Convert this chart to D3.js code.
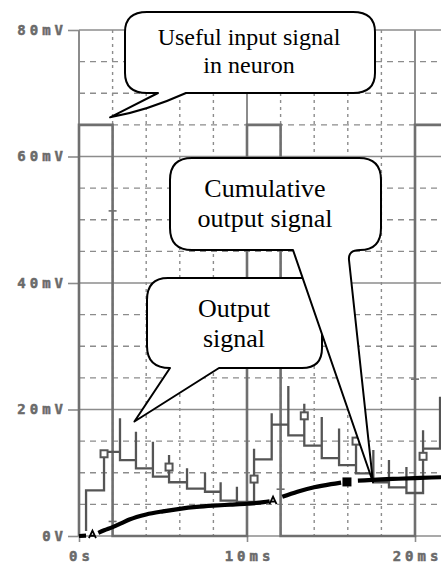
<!DOCTYPE html>
<html><head><meta charset="utf-8">
<script src="https://cdn.jsdelivr.net/npm/d3@7"></script>
<style>html,body{margin:0;padding:0;background:#fff}svg{display:block}</style>
</head><body><svg id="c" width="441" height="563"></svg>
<script>
// ---------------- data ----------------
// input signal (gray pulses), time in ms, value in mV
const inputT = [0, 0, 2, 2, 10, 10, 12, 12, 20, 20, 23];
const inputV = [0, 65, 65, 0, 0, 65, 65, 0, 0, 65, 65];
const inputTickT = [2, 2, 12, 20];
const inputTickV = [51.4, 2.3, 7.4, 24.8];

// output signal (step trace): at each time, spike to peak then settle at level
const outStart = 0.8;
const outT     = [0.42, 1.49, 2.44, 3.39, 4.40, 5.36, 6.43, 7.50, 8.43, 9.40, 10.42, 11.47, 12.46, 13.41, 14.45, 15.48, 16.49, 17.52, 18.45, 19.49, 20.48, 21.49];
const outPeak  = [7.2, 13.3, 18.6, 16.5, 14.9, 12.8, 10.7, 10.0, 8.5, 7.8, 13.8, 19.4, 23.7, 20.9, 18.8, 17.0, 15.7, 13.6, 12.0, 10.9, 16.7, 22.0];
const outLevel = [7.2, 13.3, 12.0, 10.7, 9.4, 8.5, 7.5, 7.0, 5.6, 5.4, 12.1, 17.6, 15.9, 14.3, 12.3, 11.2, 9.9, 8.5, 7.7, 6.8, 13.8, 17.0];
const outMarkT = [1.49, 5.36, 10.42, 13.41, 16.49, 20.48];
const outMarkV = [13.0, 10.9, 9.0, 19.0, 15.0, 12.6];

// cumulative output signal (black), null = gap around a marker
const cumT = [0, 0.42, 0.8, 1.15, 1.5, 2, 2.5, 3, 4, 5, 6, 7, 8, 9, 10, 11, 11.35, 11.6, 12.1, 13, 14, 15, 15.6, 16.0, 16.6, 17, 18, 19, 20, 21, 23];
const cumV = [0, 0.05, null, 0.5, 0.9, 1.4, 2.0, 2.6, 3.4, 3.9, 4.3, 4.6, 4.8, 4.95, 5.1, 5.35, 5.5, null, 6.2, 7.0, 7.7, 8.2, 8.45, null, 8.75, 8.8, 8.95, 9.05, 9.15, 9.25, 9.4];
const cumTriT = [0.8, 11.55];
const cumTriV = [0.2, 5.6];
const cumSqT = [15.95];
const cumSqV = [8.55];

// axes
const yTicks = [0, 20, 40, 60, 80];
const yTickLabels = ["0V", "20mV", "40mV", "60mV", "80mV"];
const xTicks = [0, 10, 20];
const xTickLabels = ["0s", "10ms", "20ms"];

// callout texts
const calloutInput = ["Useful input signal", "in neuron"];
const calloutCum = ["Cumulative", "output signal"];
const calloutOut = ["Output", "signal"];

// ---------------- drawing ----------------
const W = 441, H = 563;
const svg = d3.select('#c');
const x = d3.scaleLinear().domain([0, 20]).range([79, 415]);
const y = d3.scaleLinear().domain([0, 80]).range([536, 30]);
const GRID = '#8c8c8c';

const grid = svg.append('g');
// minor horizontal dashed
grid.selectAll('line.hmin').data(d3.range(5, 80, 5).filter(v => v % 20)).join('line')
  .attr('x1', x(0)).attr('x2', W).attr('y1', d => y(d)).attr('y2', d => y(d))
  .attr('stroke', GRID).attr('stroke-width', 1.4).attr('stroke-dasharray', '6,5');
// minor vertical dashed
grid.selectAll('line.vmin').data(d3.range(2, 23, 2).filter(t => t % 10)).join('line')
  .attr('x1', d => x(d)).attr('x2', d => x(d)).attr('y1', y(80)).attr('y2', y(0))
  .attr('stroke', GRID).attr('stroke-width', 1.4).attr('stroke-dasharray', '3,4');
// major horizontal
grid.selectAll('line.hmaj').data(yTicks).join('line')
  .attr('x1', x(0)).attr('x2', W).attr('y1', d => y(d)).attr('y2', d => y(d))
  .attr('stroke', GRID).attr('stroke-width', 1.6);
// major vertical
grid.selectAll('line.vmaj').data(xTicks).join('line')
  .attr('x1', d => x(d)).attr('x2', d => x(d)).attr('y1', y(80)).attr('y2', y(0))
  .attr('stroke', GRID).attr('stroke-width', 2);

// axes
const LS = 4;
const yAxis = d3.axisLeft(y).tickValues(yTicks).tickFormat((d, i) => yTickLabels[i])
  .tickSize(11).tickPadding(5).tickSizeOuter(0);
const ya = svg.append('g').attr('transform', `translate(${x(0)},0)`).call(yAxis);
const xAxis = d3.axisBottom(x).tickValues(xTicks).tickFormat((d, i) => xTickLabels[i])
  .tickSize(6).tickPadding(9).tickSizeOuter(0);
const xa = svg.append('g').attr('transform', `translate(0,${y(0)})`).call(xAxis);
[ya, xa].forEach(a => {
  a.attr('font-family', null).attr('font-size', null);
  a.select('.domain').remove();
  a.selectAll('line').attr('stroke', GRID).attr('stroke-width', 1.6);
  a.selectAll('text')
    .style('font-family', '"DejaVu Sans Mono", monospace')
    .style('font-weight', '900').style('font-size', '14px').attr('fill', '#6a6a6a')
    .attr('stroke', '#6a6a6a').attr('stroke-width', 0.5)
    .style('letter-spacing', LS + 'px');
});
ya.selectAll('text').attr('dx', LS);
xa.selectAll('text').attr('dx', LS / 2);

// input pulses
const lineXY = d3.line().x(d => x(d[0])).y(d => y(d[1]));
svg.append('path').datum(inputT.map((t, i) => [t, inputV[i]]))
  .attr('d', lineXY).attr('fill', 'none').attr('stroke', '#6f6f6f').attr('stroke-width', 2.6);
svg.selectAll('line.itick').data(inputTickT.map((t, i) => [t, inputTickV[i]])).join('line')
  .attr('x1', d => x(d[0]) - 4).attr('x2', d => x(d[0]) + 4)
  .attr('y1', d => y(d[1])).attr('y2', d => y(d[1]))
  .attr('stroke', '#6f6f6f').attr('stroke-width', 1.6);

// output step signal
const outPts = [[outT[0], outStart]];
outT.forEach((t, i) => {
  const next = i + 1 < outT.length ? outT[i + 1] : 23;
  outPts.push([t, outPeak[i]], [t, outLevel[i]], [next, outLevel[i]]);
});
svg.append('path').datum(outPts).attr('d', lineXY).attr('fill', 'none')
  .attr('stroke', '#555').attr('stroke-width', 2.3).attr('stroke-linejoin', 'miter');

// cumulative
const cumLine = d3.line().defined(d => d[1] != null).x(d => x(d[0])).y(d => y(d[1])).curve(d3.curveMonotoneX);
svg.append('path').datum(cumT.map((t, i) => [t, cumV[i]])).attr('d', cumLine)
  .attr('fill', 'none').attr('stroke', '#000').attr('stroke-width', 4.2);

// markers
svg.selectAll('rect.om').data(outMarkT.map((t, i) => [t, outMarkV[i]])).join('rect')
  .attr('x', d => x(d[0]) - 3.5).attr('y', d => y(d[1]) - 3.5).attr('width', 7).attr('height', 7)
  .attr('fill', '#fff').attr('stroke', '#555').attr('stroke-width', 2);
svg.selectAll('path.tri').data(cumTriT.map((t, i) => [t, cumTriV[i]])).join('path')
  .attr('transform', d => `translate(${x(d[0])},${y(d[1])})`)
  .attr('d', 'M-3.5,3.5L0,-4L3.5,3.5M-2,1L2,1').attr('fill', 'none')
  .attr('stroke', '#000').attr('stroke-width', 1.8);
svg.selectAll('rect.cs').data(cumSqT.map((t, i) => [t, cumSqV[i]])).join('rect')
  .attr('x', d => x(d[0]) - 4.5).attr('y', d => y(d[1]) - 4.5).attr('width', 9).attr('height', 9)
  .attr('fill', '#000');

// ---------------- callouts ----------------
const co = svg.append('g').attr('fill', '#fff').attr('stroke', '#000').attr('stroke-width', 2)
  .attr('stroke-linejoin', 'round');
function textLines(lines, cx, y0, dy, size) {
  const t = svg.append('text').attr('font-family', 'Liberation Serif, Times New Roman, serif')
    .attr('font-size', size).attr('text-anchor', 'middle').attr('fill', '#000');
  lines.forEach((s, i) => t.append('tspan').attr('x', cx).attr('y', y0 + i * dy).text(s));
}
// "Output signal" (drawn first, overlapped by the cumulative callout tail)
{
  const tip = [x(3.3), y(18.1)];
  const p = d3.path();
  p.moveTo(168, 278); p.lineTo(302, 278); p.quadraticCurveTo(322, 278, 322, 298);
  p.lineTo(322, 348); p.quadraticCurveTo(322, 368, 302, 368);
  p.lineTo(219, 368); p.lineTo(tip[0], tip[1]); p.lineTo(170, 368);
  p.quadraticCurveTo(147, 368, 147, 346); p.lineTo(147, 300); p.quadraticCurveTo(147, 278, 168, 278);
  p.closePath();
  co.append('path').attr('d', p.toString());
  textLines(calloutOut, 234, 317, 30, 26);
}
// "Useful input signal in neuron"
{
  const tip = [x(1.85), y(66.2)];
  const p = d3.path();
  p.moveTo(147, 12); p.lineTo(353, 12); p.quadraticCurveTo(375, 12, 375, 32);
  p.lineTo(375, 73); p.quadraticCurveTo(375, 93, 353, 93);
  p.lineTo(186, 93); p.quadraticCurveTo(146, 111, tip[0], tip[1]); p.lineTo(158, 93);
  p.lineTo(147, 93); p.quadraticCurveTo(125, 93, 125, 73); p.lineTo(125, 32);
  p.quadraticCurveTo(125, 12, 147, 12); p.closePath();
  co.append('path').attr('d', p.toString());
  textLines(calloutInput, 249, 45, 28, 24);
}
// "Cumulative output signal"
{
  const tip = [x(17.5), y(8.5)];
  const p = d3.path();
  p.moveTo(192, 158); p.lineTo(359, 158); p.quadraticCurveTo(381, 158, 381, 180);
  p.lineTo(381, 228); p.quadraticCurveTo(381, 250, 360, 250);
  p.quadraticCurveTo(348, 250, 349, 260); p.lineTo(tip[0], tip[1]); p.lineTo(293, 250);
  p.lineTo(192, 250); p.quadraticCurveTo(170, 250, 170, 228); p.lineTo(170, 180);
  p.quadraticCurveTo(170, 158, 192, 158); p.closePath();
  co.append('path').attr('d', p.toString());
  textLines(calloutCum, 265, 197, 30, 26);
}
</script></body></html>
